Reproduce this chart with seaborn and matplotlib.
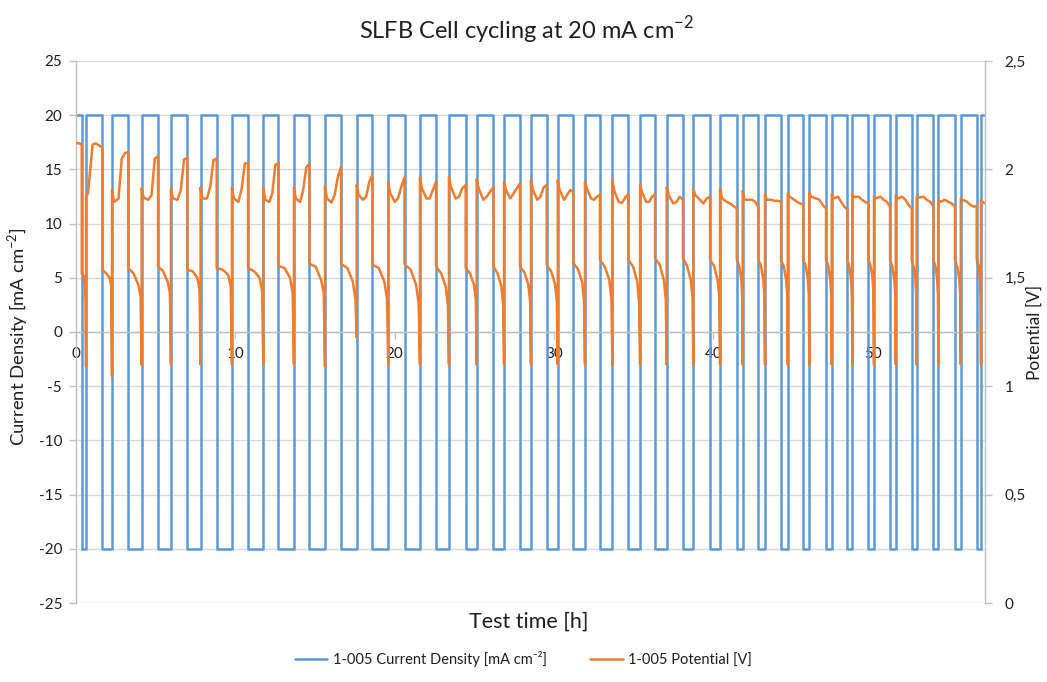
import matplotlib
matplotlib.use("Agg")
import matplotlib.pyplot as plt
from matplotlib.ticker import FuncFormatter, MultipleLocator
import seaborn as sns

# Galvanostatic cycling schedule [h]: start / end of every charge step
charge_start = [0.00, 0.63, 2.26, 4.12, 5.96, 7.82, 9.79, 11.76, 13.68, 15.63,
                17.62, 19.60, 21.59, 23.41, 25.15, 26.87, 28.56, 30.24, 31.95, 33.67,
                35.41, 37.08, 38.75, 40.43, 41.85, 43.25, 44.68, 46.03, 47.44, 48.73,
                50.09, 51.46, 52.77, 54.13, 55.54, 56.81]
charge_end = [0.36, 1.66, 3.28, 5.15, 6.99, 8.83, 10.80, 12.70, 14.65, 16.64,
              18.61, 20.62, 22.60, 24.46, 26.20, 27.87, 29.55, 31.22, 32.89, 34.67,
              36.35, 38.10, 39.80, 41.48, 42.83, 44.26, 45.66, 47.08, 48.42, 49.74,
              51.10, 52.46, 53.82, 55.18, 56.54, 57.06]
current_density = 20  # mA cm-2

# cell potential [V] read at fixed fractions of each charge step
charge_frac = [0, 0.12, 0.4, 0.6, 0.8, 1.0]
charge_v = [
    [2.123, 2.122, 2.120, 2.120, 2.118, 2.115],
    [1.875, 1.890, 2.115, 2.120, 2.110, 2.100],
    [1.905, 1.850, 1.865, 2.050, 2.075, 2.080],
    [1.913, 1.870, 1.860, 1.880, 2.050, 2.060],
    [1.910, 1.866, 1.860, 1.905, 2.046, 2.053],
    [1.917, 1.866, 1.866, 1.920, 2.043, 2.050],
    [1.917, 1.866, 1.850, 1.910, 2.027, 2.030],
    [1.917, 1.860, 1.850, 1.890, 2.020, 2.030],
    [1.917, 1.866, 1.850, 1.905, 2.010, 2.025],
    [1.923, 1.866, 1.847, 1.882, 1.966, 2.012],
    [1.928, 1.882, 1.860, 1.874, 1.943, 1.978],
    [1.940, 1.890, 1.850, 1.866, 1.920, 1.963],
    [1.963, 1.913, 1.866, 1.866, 1.905, 1.943],
    [1.963, 1.920, 1.866, 1.874, 1.913, 1.928],
    [1.954, 1.913, 1.860, 1.874, 1.897, 1.917],
    [1.943, 1.905, 1.866, 1.890, 1.913, 1.935],
    [1.950, 1.905, 1.860, 1.874, 1.917, 1.928],
    [1.950, 1.905, 1.860, 1.882, 1.905, 1.897],
    [1.943, 1.913, 1.866, 1.860, 1.874, 1.882],
    [1.950, 1.900, 1.850, 1.845, 1.870, 1.886],
    [1.928, 1.897, 1.850, 1.850, 1.874, 1.886],
    [1.917, 1.882, 1.843, 1.850, 1.874, 1.860],
    [1.907, 1.882, 1.860, 1.843, 1.866, 1.874],
    [1.910, 1.866, 1.850, 1.843, 1.831, 1.820],
    [1.900, 1.860, 1.860, 1.860, 1.850, 1.828],
    [1.886, 1.860, 1.860, 1.855, 1.855, 1.850],
    [1.890, 1.874, 1.860, 1.850, 1.843, 1.836],
    [1.893, 1.874, 1.866, 1.860, 1.836, 1.820],
    [1.886, 1.866, 1.874, 1.850, 1.828, 1.816],
    [1.886, 1.872, 1.874, 1.860, 1.850, 1.843],
    [1.874, 1.866, 1.874, 1.860, 1.850, 1.828],
    [1.882, 1.866, 1.874, 1.860, 1.836, 1.820],
    [1.874, 1.870, 1.874, 1.860, 1.850, 1.831],
    [1.860, 1.850, 1.860, 1.850, 1.843, 1.828],
    [1.866, 1.860, 1.850, 1.836, 1.828, 1.831],
    [1.860, 1.855, 1.850, 1.848, 1.845, 1.843],
]

# cell potential [V] at fixed fractions of each discharge step
discharge_frac = [0, 0.4, 0.75, 0.92, 1.0]
discharge_v = [
    [1.520, 1.510, 1.460, 1.400, 1.090],
    [1.537, 1.520, 1.500, 1.460, 1.047],
    [1.545, 1.520, 1.468, 1.415, 1.100],
    [1.552, 1.530, 1.480, 1.430, 1.100],
    [1.537, 1.530, 1.500, 1.445, 1.100],
    [1.545, 1.537, 1.514, 1.460, 1.100],
    [1.545, 1.530, 1.500, 1.440, 1.100],
    [1.555, 1.545, 1.500, 1.430, 1.100],
    [1.564, 1.552, 1.490, 1.430, 1.090],
    [1.564, 1.545, 1.483, 1.400, 1.225],
    [1.560, 1.545, 1.483, 1.405, 1.100],
    [1.563, 1.537, 1.468, 1.380, 1.100],
    [1.552, 1.520, 1.460, 1.370, 1.100],
    [1.545, 1.520, 1.468, 1.400, 1.100],
    [1.552, 1.520, 1.460, 1.370, 1.100],
    [1.552, 1.525, 1.470, 1.390, 1.100],
    [1.560, 1.530, 1.470, 1.390, 1.100],
    [1.567, 1.540, 1.480, 1.390, 1.100],
    [1.583, 1.550, 1.490, 1.400, 1.100],
    [1.583, 1.552, 1.483, 1.380, 1.100],
    [1.590, 1.560, 1.490, 1.400, 1.100],
    [1.590, 1.555, 1.490, 1.410, 1.100],
    [1.583, 1.555, 1.490, 1.420, 1.100],
    [1.583, 1.555, 1.495, 1.420, 1.100],
    [1.583, 1.555, 1.490, 1.410, 1.100],
    [1.580, 1.552, 1.490, 1.420, 1.100],
    [1.583, 1.555, 1.495, 1.420, 1.100],
    [1.583, 1.555, 1.490, 1.420, 1.100],
    [1.583, 1.550, 1.490, 1.410, 1.100],
    [1.583, 1.555, 1.495, 1.420, 1.100],
    [1.583, 1.552, 1.490, 1.420, 1.100],
    [1.580, 1.550, 1.490, 1.410, 1.100],
    [1.583, 1.555, 1.495, 1.420, 1.100],
    [1.580, 1.550, 1.490, 1.410, 1.100],
    [1.583, 1.555, 1.495, 1.420, 1.100],
]

# assemble the two traces
t_cur, cur = [], []
t_pot, pot = [], []
for k in range(len(charge_start)):
    t0, t1 = charge_start[k], charge_end[k]
    t_cur += [t0, t1]
    cur += [current_density, current_density]
    for f, v in zip(charge_frac, charge_v[k]):
        t_pot.append(t0 + f * (t1 - t0))
        pot.append(v)
    if k < len(discharge_v):
        t2 = charge_start[k + 1]
        t_cur += [t1, t2]
        cur += [-current_density, -current_density]
        for f, v in zip(discharge_frac, discharge_v[k]):
            t_pot.append(t1 + f * (t2 - t1))
            pot.append(v)

sns.set_theme(style="white")
plt.rcParams['font.family'] = ['Lato', 'DejaVu Sans']
plt.rcParams['mathtext.fontset'] = 'custom'
plt.rcParams['mathtext.rm'] = 'Lato'
plt.rcParams['axes.unicode_minus'] = False

blue = '#5B9BD5'
orange = '#ED7D31'
grey = '#D9D9D9'
txt = '#1F1F1F'

fig = plt.figure(figsize=(10.47, 6.82), dpi=100)
ax = fig.add_axes([0.0726, 0.1158, 0.8682, 0.7948])
ax2 = ax.twinx()

sns.lineplot(x=t_cur, y=cur, ax=ax, color=blue, lw=1.8, estimator=None,
             sort=False, legend=False)
sns.lineplot(x=t_pot, y=pot, ax=ax2, color=orange, lw=1.8, estimator=None,
             sort=False, legend=False)

ax.set_xlim(0, charge_end[-1])
ax.set_ylim(-25, 25)
ax2.set_ylim(0, 2.5)
ax.yaxis.set_major_locator(MultipleLocator(5))
ax2.yaxis.set_major_locator(MultipleLocator(0.5))
ax.xaxis.set_major_locator(MultipleLocator(10))
ax2.yaxis.set_major_formatter(FuncFormatter(lambda v, p: f"{v:g}".replace('.', ',')))

ax.grid(axis='y', color=grey, lw=1)
ax.grid(axis='x', visible=False)
ax2.grid(False)

for a in (ax, ax2):
    a.spines['top'].set_visible(False)
    for s in ('left', 'right', 'bottom'):
        a.spines[s].set_color('#BFBFBF')
        a.spines[s].set_linewidth(1)
ax.spines['right'].set_visible(False)
ax2.spines['left'].set_visible(False)
ax2.spines['bottom'].set_visible(False)
ax.spines['bottom'].set_position(('data', 0))

ax.tick_params(axis='y', length=5, width=1, color='#BFBFBF', pad=5,
               labelsize=11, labelcolor=txt, left=True)
ax.tick_params(axis='x', length=5, width=1, color='#BFBFBF', pad=6,
               labelsize=11, labelcolor=txt, bottom=True)
ax2.tick_params(axis='y', length=5, width=1, color='#BFBFBF', pad=9,
                labelsize=11, labelcolor=txt, right=True)
ax.set_xlabel('')
ax.set_ylabel('')
ax2.set_ylabel('')

fig.text(0.503, 0.956, 'SLFB Cell cycling at 20 mA cm$^{\\mathregular{-2}}$',
         ha='center', va='center', fontsize=17, color=txt)
fig.text(0.505, 0.088, 'Test time [h]', ha='center', va='center',
         fontsize=15.5, color=txt)
fig.text(0.017, 0.506, 'Current Density [mA cm$^{\\mathregular{-2}}$]', rotation=90,
         ha='center', va='center', fontsize=13.3, color=txt)
fig.text(0.988, 0.513, 'Potential [V]', rotation=90,
         ha='center', va='center', fontsize=12.5, color=txt)

handles = [ax.lines[0], ax2.lines[0]]
labels = ['1-005 Current Density [mA cm⁻²]', '1-005 Potential [V]']
fig.legend(handles, labels, loc='center', bbox_to_anchor=(0.5, 0.033), ncol=2,
           frameon=False, fontsize=10.5, handlelength=2.2, handletextpad=0.4,
           columnspacing=3.0, labelcolor=txt)

fig.savefig('out.png', dpi=100)
